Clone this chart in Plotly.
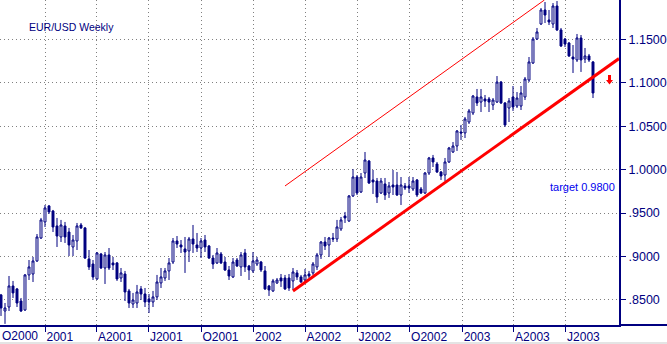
import plotly.graph_objects as go
import pandas as pd

# weekly bars, EUR/USD
week_start = "2000-10-16"
n_weeks = 149

open_ = [0.8558, 0.8373, 0.8419, 0.8661, 0.8627, 0.8488, 0.8385, 0.8788, 0.8799, 0.8949,
         0.9213, 0.9398, 0.9582, 0.9524, 0.9352, 0.9225, 0.9352, 0.9282, 0.9110, 0.9179,
         0.9363, 0.9329, 0.8972, 0.8914, 0.8742, 0.9029, 0.8868, 0.9018, 0.8926, 0.8926,
         0.8753, 0.8799, 0.8604, 0.8454, 0.8465, 0.8627, 0.8569, 0.8512, 0.8477, 0.8535,
         0.8696, 0.8753, 0.8834, 0.8937, 0.9179, 0.9133, 0.9087, 0.9064, 0.9202, 0.9133,
         0.9098, 0.9190, 0.9121, 0.8983, 0.8926, 0.9029, 0.8937, 0.8845, 0.8765, 0.8960,
         0.8880, 0.9041, 0.8891, 0.8834, 0.8914, 0.8937, 0.8834, 0.8661, 0.8604, 0.8696,
         0.8753, 0.8753, 0.8753, 0.8719, 0.8811, 0.8765, 0.8730, 0.8799, 0.8811, 0.8880,
         0.9018, 0.9167, 0.9133, 0.9213, 0.9202, 0.9317, 0.9467, 0.9409, 0.9697, 0.9915,
         0.9743, 0.9961, 1.0099, 0.9881, 0.9869, 0.9731, 0.9835, 0.9731, 0.9823, 0.9823,
         0.9708, 0.9812, 0.9812, 0.9777, 0.9881, 0.9777, 0.9731, 0.9961, 1.0134, 1.0065,
         0.9973, 0.9938, 1.0088, 1.0203, 1.0272, 1.0433, 1.0422, 1.0548, 1.0652, 1.0836,
         1.0778, 1.0813, 1.0813, 1.0744, 1.0778, 1.1008, 1.0767, 1.0709, 1.0836, 1.0732,
         1.0732, 1.0836, 1.1031, 1.1227, 1.1503, 1.1676, 1.1837, 1.1722, 1.1676, 1.1883,
         1.1607, 1.1503, 1.1457, 1.1296, 1.1262, 1.1515, 1.1273, 1.1308, 1.1239]

high = [0.8569, 0.8465, 0.8776, 0.8719, 0.8638, 0.8523, 0.8799, 0.8960, 0.8995, 0.9259,
        0.9444, 0.9593, 0.9593, 0.9536, 0.9444, 0.9421, 0.9398, 0.9329, 0.9248, 0.9386,
        0.9386, 0.9340, 0.9075, 0.8960, 0.9052, 0.9041, 0.9052, 0.9098, 0.8995, 0.8937,
        0.8868, 0.8834, 0.8627, 0.8581, 0.8673, 0.8661, 0.8638, 0.8569, 0.8604, 0.8788,
        0.8868, 0.8868, 0.8983, 0.9213, 0.9236, 0.9190, 0.9225, 0.9225, 0.9363, 0.9271,
        0.9213, 0.9248, 0.9133, 0.9018, 0.9098, 0.9052, 0.8995, 0.8891, 0.8983, 0.8983,
        0.9052, 0.9087, 0.8903, 0.9052, 0.8995, 0.8949, 0.8891, 0.8673, 0.8742, 0.8753,
        0.8799, 0.8788, 0.8799, 0.8868, 0.8845, 0.8788, 0.8857, 0.8834, 0.8937, 0.9041,
        0.9179, 0.9225, 0.9225, 0.9271, 0.9421, 0.9455, 0.9513, 0.9708, 1.0007, 0.9938,
        0.9961, 1.0203, 1.0111, 0.9996, 0.9904, 0.9904, 0.9904, 0.9858, 0.9996, 0.9973,
        0.9915, 0.9846, 0.9915, 0.9915, 0.9892, 0.9800, 0.9973, 1.0146, 1.0169, 1.0088,
        0.9984, 1.0134, 1.0261, 1.0318, 1.0456, 1.0514, 1.0606, 1.0698, 1.0859, 1.0928,
        1.0928, 1.0859, 1.0836, 1.0824, 1.1077, 1.1020, 1.0778, 1.0824, 1.0962, 1.0893,
        1.0962, 1.1066, 1.1296, 1.1526, 1.1630, 1.1860, 1.1929, 1.1837, 1.1917, 1.1940,
        1.1630, 1.1515, 1.1469, 1.1434, 1.1561, 1.1549, 1.1400, 1.1331, 1.1250]

low = [0.8316, 0.8225, 0.8373, 0.8523, 0.8419, 0.8362, 0.8373, 0.8730, 0.8707, 0.8937,
       0.9202, 0.9340, 0.9490, 0.9282, 0.9110, 0.9167, 0.9156, 0.9006, 0.9006, 0.9075,
       0.9317, 0.8972, 0.8845, 0.8730, 0.8730, 0.8857, 0.8684, 0.8845, 0.8845, 0.8719,
       0.8707, 0.8488, 0.8408, 0.8408, 0.8408, 0.8500, 0.8419, 0.8350, 0.8419, 0.8500,
       0.8638, 0.8719, 0.8730, 0.8914, 0.9098, 0.9041, 0.8811, 0.8937, 0.9041, 0.9052,
       0.8983, 0.9052, 0.8972, 0.8857, 0.8914, 0.8914, 0.8834, 0.8730, 0.8753, 0.8880,
       0.8776, 0.8822, 0.8730, 0.8811, 0.8891, 0.8822, 0.8615, 0.8546, 0.8592, 0.8684,
       0.8650, 0.8615, 0.8604, 0.8615, 0.8730, 0.8696, 0.8696, 0.8753, 0.8788, 0.8845,
       0.8972, 0.9075, 0.8995, 0.9167, 0.9167, 0.9294, 0.9386, 0.9398, 0.9685, 0.9708,
       0.9731, 0.9904, 0.9835, 0.9720, 0.9616, 0.9720, 0.9651, 0.9674, 0.9708, 0.9697,
       0.9593, 0.9766, 0.9731, 0.9754, 0.9685, 0.9720, 0.9720, 0.9938, 1.0030, 0.9961,
       0.9881, 0.9869, 1.0076, 1.0192, 1.0215, 1.0341, 1.0364, 1.0525, 1.0629, 1.0732,
       1.0663, 1.0721, 1.0663, 1.0686, 1.0767, 1.0755, 1.0491, 1.0548, 1.0675, 1.0709,
       1.0686, 1.0801, 1.1008, 1.1216, 1.1492, 1.1664, 1.1687, 1.1664, 1.1630, 1.1595,
       1.1411, 1.1411, 1.1296, 1.1112, 1.1239, 1.1124, 1.1227, 1.1239, 1.0824]

close = [0.8408, 0.8408, 0.8661, 0.8581, 0.8465, 0.8373, 0.8788, 0.8880, 0.8949, 0.9225,
         0.9421, 0.9559, 0.9513, 0.9340, 0.9236, 0.9363, 0.9225, 0.9133, 0.9190, 0.9352,
         0.9329, 0.8983, 0.8880, 0.8765, 0.9041, 0.8868, 0.9018, 0.8868, 0.8903, 0.8742,
         0.8811, 0.8592, 0.8465, 0.8500, 0.8592, 0.8569, 0.8477, 0.8477, 0.8535, 0.8707,
         0.8765, 0.8834, 0.8926, 0.9179, 0.9144, 0.9110, 0.9052, 0.9202, 0.9144, 0.9098,
         0.9179, 0.9110, 0.8983, 0.8914, 0.9041, 0.8926, 0.8845, 0.8776, 0.8937, 0.8891,
         0.9018, 0.8880, 0.8845, 0.8949, 0.8960, 0.8845, 0.8627, 0.8615, 0.8719, 0.8730,
         0.8719, 0.8627, 0.8638, 0.8822, 0.8765, 0.8707, 0.8788, 0.8776, 0.8914, 0.9018,
         0.9167, 0.9121, 0.9213, 0.9202, 0.9340, 0.9421, 0.9444, 0.9697, 0.9915, 0.9731,
         0.9915, 1.0111, 0.9846, 0.9858, 0.9685, 0.9869, 0.9708, 0.9812, 0.9800, 0.9708,
         0.9823, 0.9789, 0.9789, 0.9869, 0.9708, 0.9731, 0.9961, 1.0134, 1.0088, 0.9973,
         0.9927, 1.0088, 1.0249, 1.0272, 1.0445, 1.0422, 1.0583, 1.0675, 1.0847, 1.0767,
         1.0836, 1.0790, 1.0778, 1.0801, 1.1008, 1.0767, 1.0514, 1.0790, 1.0721, 1.0824,
         1.0882, 1.1043, 1.1239, 1.1503, 1.1584, 1.1837, 1.1779, 1.1699, 1.1883, 1.1607,
         1.1423, 1.1446, 1.1308, 1.1273, 1.1515, 1.1262, 1.1308, 1.1262, 1.0882]

# trend channel (hand-drawn lines on the original)
support_x = ["2002-03-11", "2003-10-02 12:00"]
support_y = [0.8604, 1.1278]
channel_x = ["2002-02-25", "2003-05-25"]
channel_y = [0.9812, 1.1952]

# axis ticks
x_tickvals = ["2001-01-01", "2001-04-01", "2001-07-01", "2001-10-01", "2002-01-01",
              "2002-04-01", "2002-07-01", "2002-10-01", "2003-01-01", "2003-04-01",
              "2003-07-01"]
x_ticktext = ["2001", "A2001", "J2001", "O2001", "2002", "A2002", "J2002", "O2002",
              "2003", "A2003", "J2003"]
first_label = "O2000"
y_tickvals = [0.85, 0.90, 0.95, 1.00, 1.05, 1.10, 1.15]
y_ticktext = [".8500", ".9000", ".9500", "1.0000", "1.0500", "1.1000", "1.1500"]

NAVY = "#000080"
RED = "#ff0000"
FONT = "Arial, Liberation Sans, sans-serif"

W, H = 667, 344
PL, PR, PT, PB = 0, 48, 0, 19
PW, PH = W - PL - PR, H - PT - PB

dates = pd.date_range(week_start, periods=n_weeks, freq="7D")

fig = go.Figure()
fig.add_trace(go.Candlestick(
    x=dates, open=open_, high=high, low=low, close=close,
    increasing=dict(line=dict(color=NAVY, width=1), fillcolor="white"),
    decreasing=dict(line=dict(color=NAVY, width=1), fillcolor=NAVY),
    whiskerwidth=0, showlegend=False, hoverinfo="skip",
))
fig.add_trace(go.Scatter(x=support_x, y=support_y, mode="lines",
                         line=dict(color=RED, width=3), showlegend=False, hoverinfo="skip"))
fig.add_trace(go.Scatter(x=channel_x, y=channel_y, mode="lines",
                         line=dict(color=RED, width=1), showlegend=False, hoverinfo="skip"))


def px(x):
    return (x - PL) / PW


def py(y):
    return 1 - (y - PT) / PH


arrow = [(608, 75), (611, 75), (611, 80), (613, 80), (609.5, 84.5), (606, 80), (608, 80)]
path = "M " + " L ".join(f"{px(a):.5f},{py(b):.5f}" for a, b in arrow) + " Z"

fig.update_layout(
    width=W, height=H,
    margin=dict(l=PL, r=PR, t=PT, b=PB, pad=0),
    paper_bgcolor="white", plot_bgcolor="white",
    font=dict(family=FONT, color=NAVY, size=12),
    xaxis=dict(
        type="date", range=["2000-10-14 06:00", "2003-10-02 12:00"],
        tickvals=x_tickvals, ticktext=x_ticktext,
        ticks="outside", ticklen=5, tickwidth=1, tickcolor=NAVY,
        ticklabelposition="outside right",
        tickfont=dict(family=FONT, size=12, color=NAVY),
        showline=True, linecolor=NAVY, linewidth=2,
        showgrid=True, gridcolor="#808080", gridwidth=1, griddash="1px,3px",
        zeroline=False, rangeslider=dict(visible=False), automargin=False,
        fixedrange=True,
    ),
    yaxis=dict(
        side="right", range=[0.8212, 1.1952],
        tickvals=y_tickvals, ticktext=y_ticktext,
        ticks="outside", ticklen=5, tickwidth=1, tickcolor=NAVY,
        tickfont=dict(family=FONT, size=12.5, color=NAVY),
        showline=True, linecolor=NAVY, linewidth=2,
        showgrid=True, gridcolor="#808080", gridwidth=1, griddash="1px,3px",
        zeroline=False, automargin=False, fixedrange=True,
    ),
    shapes=[
        dict(type="line", xref="paper", yref="paper", x0=1, x1=W / PW, y0=0, y1=0,
             line=dict(color=NAVY, width=2)),
        dict(type="path", xref="paper", yref="paper", path=path,
             fillcolor=RED, line=dict(color=RED, width=0)),
        dict(type="rect", xref="paper", yref="paper", x0=0, x1=W / PW,
             y0=py(342), y1=py(345), fillcolor="#e4e4e4", line=dict(width=0), layer="below"),
    ],
    annotations=[
        dict(text="EUR/USD Weekly", xref="paper", yref="paper", x=px(27), y=py(27),
             xanchor="left", yanchor="middle", showarrow=False,
             font=dict(family=FONT, size=10.5, color=NAVY)),
        dict(text="target 0.9800", xref="paper", yref="paper", x=px(548), y=py(187.5),
             xanchor="left", yanchor="middle", showarrow=False,
             font=dict(family=FONT, size=11, color="#0000ee")),
        dict(text=first_label, xref="paper", yref="paper", x=px(0), y=py(335.5),
             xanchor="left", yanchor="middle", showarrow=False,
             font=dict(family=FONT, size=12, color=NAVY)),
    ],
)

fig.write_html("out.html")
